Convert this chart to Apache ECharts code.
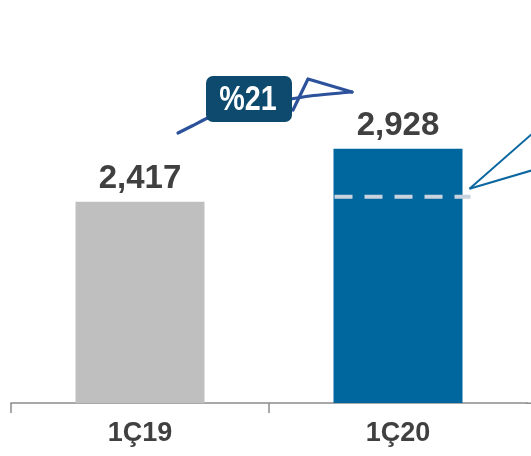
<!DOCTYPE html>
<html>
<head>
<meta charset="utf-8">
<script src="https://cdn.jsdelivr.net/npm/echarts@6/dist/echarts.min.js"></script>
<style>
html,body{margin:0;padding:0;background:#fff;}
#c{width:531px;height:456px;}
</style>
</head>
<body>
<div id="c"></div>
<script>
const categories = ['1Ç19', '1Ç20'];
const values = [2417, 2928];
const barColors = ['#bfbfbf', '#00669e'];
const tickPositions = [0, 1];
const growthLabel = '%21';
const refLevel = 2466;

const FONT = "'Liberation Sans', Arial, sans-serif";
const chart = echarts.init(document.getElementById('c'), null, {renderer: 'canvas'});

const option = {
  animation: false,
  backgroundColor: '#ffffff',
  grid: {left: 11, top: 0, width: 516, height: 403, containLabel: false},
  xAxis: [{
    type: 'category',
    data: categories,
    axisLine: {lineStyle: {color: '#8c8c8c', width: 1.5}},
    axisTick: {show: false},
    axisLabel: {fontFamily: FONT, fontWeight: 'bold', fontSize: 27, color: '#404040', margin: 17}
  }, {
    type: 'value', position: 'bottom', min: 0, max: categories.length,
    axisLine: {show: false},
    splitLine: {show: false},
    axisLabel: {show: false},
    axisTick: {show: true, length: 10, customValues: tickPositions, lineStyle: {color: '#8c8c8c', width: 1.5}}
  }],
  yAxis: {type: 'value', min: 480, max: 4360, show: false, splitLine: {show: false}},
  series: [{
    type: 'bar',
    xAxisIndex: 0,
    barWidth: 129,
    data: values.map((v, i) => ({value: v, itemStyle: {color: barColors[i]}})),
    label: {
      show: true, position: 'top', distance: 6,
      fontFamily: FONT, fontWeight: 'bold', fontSize: 33, color: '#404040',
      formatter: p => p.value.toLocaleString('en-US')
    }
  }]
};
chart.setOption(option);

// annotations positioned from the chart's scales
const barL = chart.convertToPixel({xAxisIndex: 0}, categories[1]) - 64.5;
const barR = barL + 129;
const refY = chart.convertToPixel({yAxisIndex: 0}, refLevel);
const connX = barR + 7, connY = refY - 8;

chart.setOption({
  graphic: [
    // axis line continues to the edge
    {type: 'line', z: 1, shape: {x1: 526, y1: 403.25, x2: 532, y2: 403.25}, style: {stroke: '#8c8c8c', lineWidth: 1.5}},
    // hand-drawn arrow shaft
    {type: 'polyline', z: 5, shape: {points: [[178,133],[192,126],[210,117],[240,108],[275,102],[310,96],[352,92]], smooth: 0.3},
      style: {stroke: '#2d529c', lineWidth: 3.2, fill: null, lineCap: 'round', lineJoin: 'round'}},
    // arrow head
    {type: 'polyline', z: 5, shape: {points: [[293,110],[308,79],[352,92]]},
      style: {stroke: '#2d529c', lineWidth: 3.2, fill: null, lineCap: 'round', lineJoin: 'round'}},
    // badge
    {type: 'rect', z: 10, shape: {x: 206, y: 76, width: 86, height: 46, r: 7}, style: {fill: '#0d4a6d'}},
    {type: 'text', z: 11, x: 248, y: 100, scaleX: 0.82,
      style: {text: growthLabel, fill: '#ffffff', font: 'bold 35px ' + FONT, align: 'center', verticalAlign: 'middle'}},
    // dashed reference line
    {type: 'line', z: 20, shape: {x1: barL + 1, y1: refY, x2: barR + 8, y2: refY},
      style: {stroke: '#c9d3de', lineWidth: 4, lineDash: [18, 12]}},
    // connector lines
    {type: 'line', z: 20, shape: {x1: connX, y1: connY, x2: 533, y2: 133}, style: {stroke: '#0a66a0', lineWidth: 2}},
    {type: 'line', z: 20, shape: {x1: connX, y1: connY, x2: 533, y2: 170}, style: {stroke: '#0a66a0', lineWidth: 2}}
  ]
});
</script>
</body>
</html>
